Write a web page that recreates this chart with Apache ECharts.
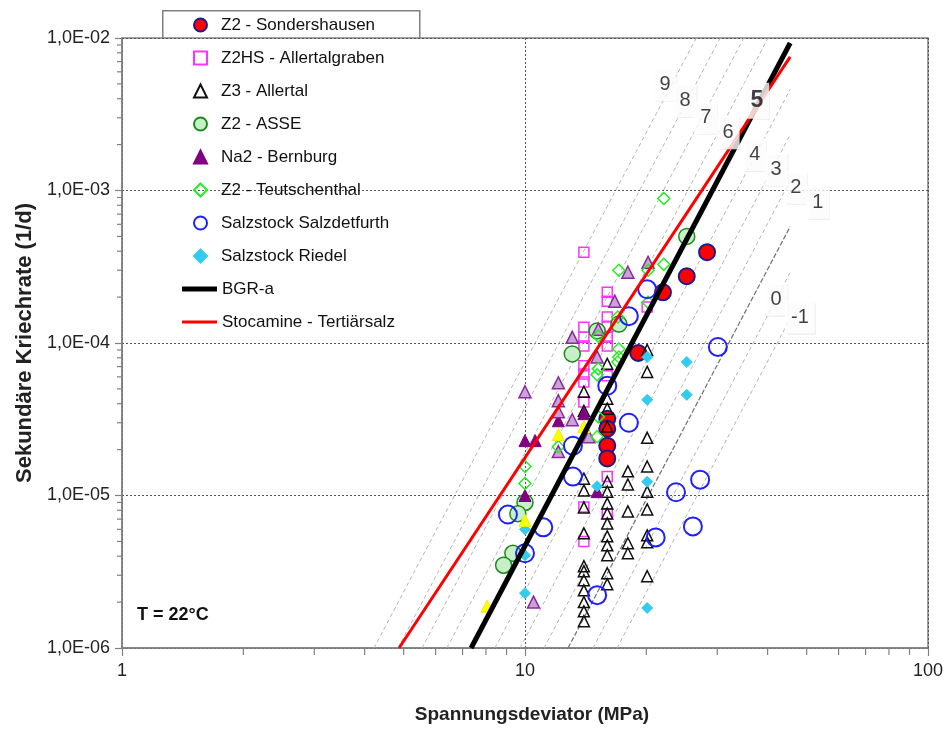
<!DOCTYPE html>
<html>
<head>
<meta charset="utf-8">
<script src="https://cdn.jsdelivr.net/npm/echarts@6/dist/echarts.min.js"></script>
<style>
  html, body { margin: 0; padding: 0; background: #fff; }
  #chart { width: 946px; height: 729px; }
</style>
</head>
<body>
<div id="chart"></div>
<script>
// Stress deviator (MPa) vs. secondary creep rate (1/d), T = 22 °C

const sondershausen = [[28.3,3.94e-4],[25.2,2.74e-4],[22.0,2.15e-4],[19.1,8.6e-5],[16,3.19e-5],[16,2.74e-5],[16,2.12e-5],[16,1.75e-5]];

const allertalgraben = [[14,3.94e-4],[16,2.15e-4],[16,1.88e-4],[16,1.48e-4],[16,1.29e-4],[16,1.09e-4],[16,9.56e-5],[16,6.09e-5],
  [20.1,1.72e-4],[14,1.27e-4],[14,1.09e-4],[14,9.56e-5],[14,7.08e-5],[14,6.27e-5],[14,5.56e-5],[14,4.11e-5],
  [14,8.4e-6],[14,5.0e-6],[16,1.33e-5],[16,7.6e-6]];

const allertal = [[20.1,9.0e-5],[16,7.3e-5],[20.1,6.46e-5],[14,4.79e-5],[16,4.31e-5],[14,3.59e-5],[16,3.71e-5],[16,2.83e-5],[20.1,2.39e-5],
  [14,1.29e-5],[14,1.08e-5],[16,1.23e-5],[16,1.06e-5],[16,8.87e-6],[16,7.62e-6],[16,6.56e-6],[16,5.4e-6],[16,4.71e-6],[16,4.06e-6],[16,3.09e-6],[16,2.62e-6],
  [18,1.44e-5],[18,1.18e-5],[18,7.86e-6],[18,4.86e-6],[18,4.18e-6],
  [20.1,1.55e-5],[20.1,1.06e-5],[20.1,8.1e-6],[20.1,5.48e-6],[20.1,4.93e-6],[20.1,2.96e-6],
  [14,8.35e-6],[14,5.65e-6],[14,3.44e-6],[14,3.19e-6],[14,2.78e-6],[14,2.39e-6],[14,2.0e-6],[14,1.74e-6],[14,1.5e-6]];

const asse = [[25.2,5.0e-4],[17.1,1.33e-4],[15.1,1.2e-4],[13.1,8.48e-5],[10,9.0e-6],[9.6,7.6e-6],[9.33,4.18e-6],[8.85,3.49e-6]];

const bernburg = [[10,2.29e-5],[10.6,2.29e-5],[10,1.0e-5],[14,3.44e-5],[15.1,1.06e-5],[12.1,3.09e-5]];

const bernburgOffen = [[20.2,3.38e-4],[18,2.91e-4],[16.7,1.88e-4],[15.2,1.23e-4],[13.1,1.09e-4],[15.1,8.1e-5],[12.1,5.48e-5],
  [12.1,4.18e-5],[12.1,3.54e-5],[13.1,3.14e-5],[10,4.79e-5],[14.4,2.43e-5],[12.1,1.94e-5],[10.5,2.0e-6]];

const teutschenthal = [[22.1,8.87e-4],[22.1,3.28e-4],[17.1,3.0e-4],[20.2,3.0e-4],[20.2,1.85e-4],[17,1.48e-4],[15.2,1.11e-4],
  [17.1,9.14e-5],[17.1,8.1e-5],[17,7.5e-5],[15.2,6.77e-5],[15.1,6.18e-5],[15.2,3.28e-5],[15.1,2.43e-5],[12.1,2.09e-5],[10,1.55e-5],[10,1.2e-5]];

const salzdetfurth = [[20.1,2.25e-4],[18.1,1.5e-4],[30.1,9.42e-5],[16,5.24e-5],[18.1,3.0e-5],[13.15,2.12e-5],[13.15,1.33e-5],
  [9.07,7.5e-6],[11.1,6.18e-6],[10,4.18e-6],[15.1,2.22e-6],[21.1,5.31e-6],[23.7,1.05e-5],[27.2,1.27e-5],[26.1,6.27e-6]];

const riedel = [[20.1,8.1e-5],[25.2,7.5e-5],[25.2,4.57e-5],[20.1,4.24e-5],[15.1,1.15e-5],[20.1,1.23e-5],[20.1,1.83e-6],[10,6.0e-6],[10,4.06e-6],[10,2.29e-6]];

const gelb = [[8.05,1.88e-6],[10,6.87e-6],[12.1,2.51e-5],[14,2.83e-5]];

// creep laws (end points of the straight lines in log-log space)
const bgrA = [[7.35,1e-6],[45.5,9.27e-3]];
const stocamine = [[4.87,1e-6],[45.5,7.52e-3]];

// creep classes (Kriechklassen) around BGR-a
const classNames = ['9','8','7','6','4','3','2','1','0','-1'];
const classStart = [[4.22,1e-6],[4.84,1e-6],[5.55,1e-6],[6.40,1e-6],[8.42,1e-6],[9.72,1e-6],[11.15,1e-6],[12.79,1e-6],[14.75,1e-6],[16.92,1e-6]];
const classEnd = [[26.6,1e-2],[30.5,1e-2],[34.9,1e-2],[40.1,1e-2],[45.5,4.6e-3],[45.5,2.32e-3],[45.5,1.16e-3],[45.5,5.8e-4],[45.5,2.9e-4],[45.5,1.45e-4]];

// class label anchors
const labelTexts = ['9','8','7','6','5','4','3','2','1','0','-1'];
const labelAnchors = [[22.25,4.93e-3],[24.95,3.88e-3],[28.1,3.0e-3],[31.9,2.39e-3],[37.6,3.88e-3],[37.2,1.72e-3],[41.97,1.37e-3],[47.0,1.05e-3],[53.3,8.36e-4],[41.97,1.94e-4],[48.1,1.48e-4]];

// axis ticks
const xMinorTicks = [2,3,4,5,6,7,8,9,20,30,40,50,60,70,80,90];
const yMinorTicks = [];
[1e-6,1e-5,1e-4,1e-3].forEach(d => { for (let m = 2; m <= 9; m++) yMinorTicks.push(+(m*d).toPrecision(3)); });

const FONT = '"Liberation Sans", Arial, sans-serif';

function openSym(name, data, symbol, size, stroke, fill, bw) {
  return {
    name, type: 'scatter', data, symbol, symbolSize: size, z: 2,
    itemStyle: { color: fill, borderColor: stroke, borderWidth: bw, opacity: 1 }
  };
}

function tickSeries(vals, axis, len) {
  return {
    type: 'custom', silent: true, clip: false, z: 4,
    data: vals.map(v => axis === 'x' ? [v, 1e-6] : [1, v]),
    renderItem: function (params, api) {
      const p = api.coord([api.value(0), api.value(1)]);
      const shape = axis === 'x'
        ? { x1: p[0], y1: p[1], x2: p[0], y2: p[1] + len }
        : { x1: p[0] - len, y1: p[1], x2: p[0], y2: p[1] };
      return { type: 'line', shape, style: { stroke: '#808080', lineWidth: 1.2 } };
    }
  };
}

const classSeries = classNames.map((n, i) => ({
  name: 'Klasse ' + n, type: 'line', data: [classStart[i], classEnd[i]],
  symbol: 'none', silent: true, z: 1,
  lineStyle: n === '1'
    ? { color: '#707070', width: 1.2, type: [5, 2] }
    : { color: '#b4b4b4', width: 1, type: [4, 3] }
}));

const labelSeries = {
  type: 'scatter', silent: true, z: 6, symbolSize: 1,
  itemStyle: { color: 'rgba(0,0,0,0)' },
  data: labelTexts.map((t, i) => {
    const item = { name: t, value: labelAnchors[i] };
    if (t === '5') item.label = { fontWeight: 'bold', fontSize: 23 };
    return item;
  }),
  label: {
    show: true, position: 'inside', formatter: '{b}',
    fontFamily: FONT, fontSize: 20, color: '#111',
    backgroundColor: '#fff', padding: [7, 6, 6, 6],
    shadowColor: 'rgba(0,0,0,0.08)', shadowBlur: 1, shadowOffsetX: 1, shadowOffsetY: 1
  }
};

const markerNames = ['Z2 - Sondershausen','Z2HS - Allertalgraben','Z3 - Allertal','Z2 - ASSE','Na2 - Bernburg',
  'Z2 - Teutschenthal','Salzstock Salzdetfurth','Salzstock Riedel'];
const lineNames = ['BGR-a','Stocamine - Tertiärsalz'];

const legendText = { fontFamily: FONT, fontSize: 17, color: '#111', lineHeight: 20 };

const chart = echarts.init(document.getElementById('chart'), null, { renderer: 'canvas' });

chart.setOption({
  animation: false,
  backgroundColor: '#fff',
  textStyle: { fontFamily: FONT },
  grid: { left: 122, right: 15, top: 38, bottom: 79, show: true, borderColor: '#808080', borderWidth: 1.5, backgroundColor: '#fff' },
  xAxis: {
    type: 'log', logBase: 10, min: 1, max: 100,
    name: 'Spannungsdeviator (MPa)', nameLocation: 'middle', nameGap: 57,
    nameTextStyle: { fontFamily: FONT, fontWeight: 'bold', fontSize: 19, color: '#222', padding: [0, 0, 0, 14] },
    axisLine: { show: true, lineStyle: { color: '#808080', width: 1.5 } },
    axisTick: { show: true, inside: false, length: 8, lineStyle: { color: '#808080', width: 1.2 } },
    axisLabel: { fontSize: 18, color: '#222', margin: 14, formatter: v => String(Math.round(v)) },
    splitLine: { show: true, lineStyle: { color: '#555', width: 1, type: [2, 2] } }
  },
  yAxis: {
    type: 'log', logBase: 10, min: 1e-6, max: 1e-2,
    name: 'Sekundäre Kriechrate (1/d)', nameLocation: 'middle', nameGap: 84,
    nameTextStyle: { fontFamily: FONT, fontWeight: 'bold', fontSize: 22, color: '#222' },
    axisLine: { show: true, lineStyle: { color: '#808080', width: 1.5 } },
    axisTick: { show: true, inside: false, length: 7, lineStyle: { color: '#808080', width: 1.2 } },
    axisLabel: { fontSize: 18, color: '#222', margin: 12,
      formatter: v => '1,0E-0' + Math.round(-Math.log10(v)) },
    splitLine: { show: true, lineStyle: { color: '#555', width: 1, type: [2, 2] } }
  },
  legend: [
    {
      data: markerNames, orient: 'vertical', left: 193, top: 15,
      itemWidth: 13, itemHeight: 13, itemGap: 13, padding: 0,
      textStyle: Object.assign({ padding: [0, 0, 0, 9] }, legendText)
    },
    {
      data: [
        { name: lineNames[0], icon: 'path://M0,0H35V5H0Z' },
        { name: lineNames[1], icon: 'path://M0,0H35V3H0Z' }
      ],
      orient: 'vertical', left: 182, top: 279, symbolKeepAspect: true,
      itemWidth: 35, itemHeight: 13, itemGap: 13, padding: 0,
      textStyle: legendText
    }
  ],
  graphic: [
    { type: 'rect', left: 162, top: 10, z: -1, shape: { width: 257, height: 327 },
      style: { fill: '#fff', stroke: '#808080', lineWidth: 1.5 } },
    { type: 'text', left: 137, top: 606, style: { text: 'T = 22°C', font: 'bold 18px ' + FONT, fill: '#111' } }
  ],
  series: [
    ...classSeries,
    openSym('Z2 - Sondershausen', sondershausen, 'circle', 16, '#1c1c8c', '#ff0000', 2),
    openSym('Z2HS - Allertalgraben', allertalgraben, 'rect', 10, '#ff33ff', 'rgba(255,255,255,0)', 1.5),
    openSym('Z3 - Allertal', allertal, 'triangle', 11, '#111', 'rgba(255,255,255,0)', 1.5),
    openSym('Z2 - ASSE', asse, 'circle', 16, '#1e8a1e', '#c8f0c8', 1.5),
    openSym('Na2 - Bernburg', bernburg, 'triangle', 12, '#800080', '#800080', 1),
    openSym('Na2 - Bernburg (offen)', bernburgOffen, 'triangle', 12, '#8a2a9a', '#caa4d8', 1.5),
    openSym('Z2 - Teutschenthal', teutschenthal, 'diamond', 12, '#22ee22', 'rgba(255,255,255,0)', 1.5),
    openSym('Salzstock Salzdetfurth', salzdetfurth, 'circle', 18, '#1f1fff', 'rgba(255,255,255,0)', 2),
    openSym('Salzstock Riedel', riedel, 'diamond', 11, '#33ccee', '#33ccee', 1),
    openSym('Zusatzdaten', gelb, 'triangle', 12, '#f0f000', '#ffff00', 1),
    { name: 'BGR-a', type: 'line', data: bgrA, symbol: 'none', z: 3,
      lineStyle: { color: '#000', width: 5 }, itemStyle: { color: '#000' } },
    { name: 'Stocamine - Tertiärsalz', type: 'line', data: stocamine, symbol: 'none', z: 3,
      lineStyle: { color: '#ff0000', width: 3 }, itemStyle: { color: '#ff0000' } },
    labelSeries,
    tickSeries(xMinorTicks, 'x', 7),
    tickSeries(yMinorTicks, 'y', 5)
  ]
});
</script>
</body>
</html>
